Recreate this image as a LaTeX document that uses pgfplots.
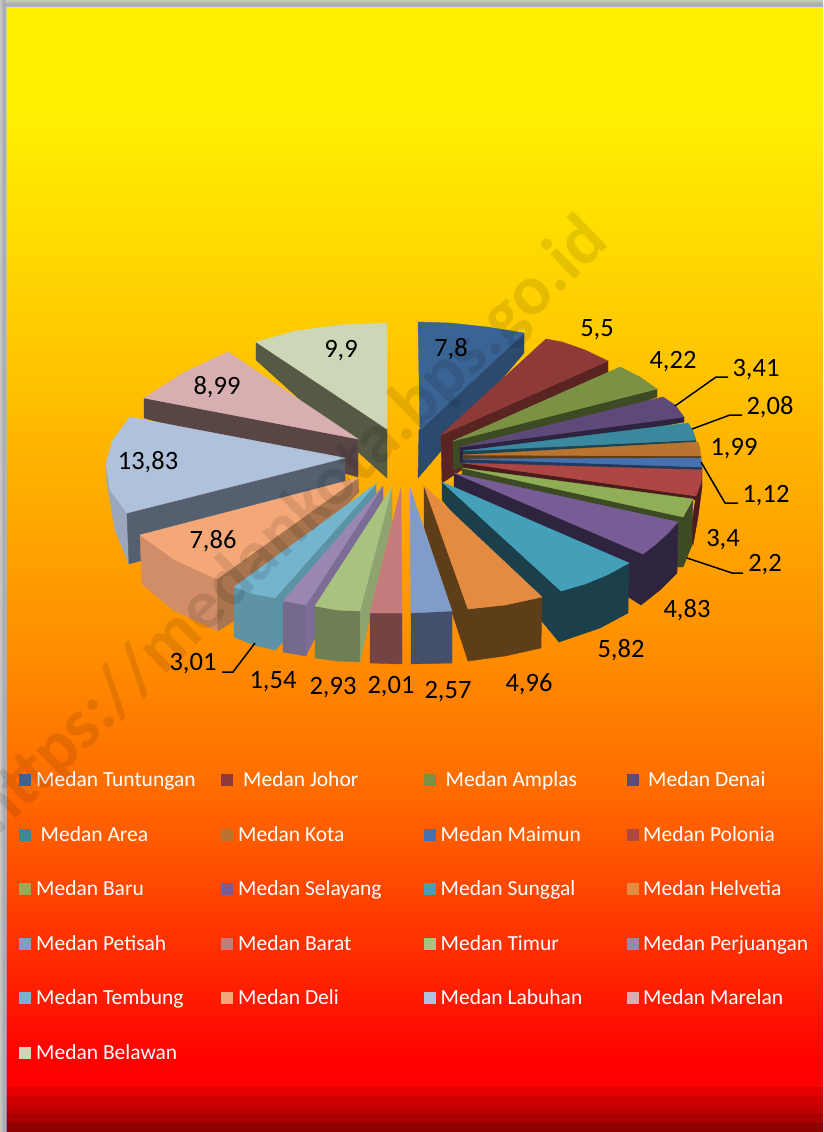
\documentclass[border=0pt]{standalone}
\usepackage{fontspec}
\setmainfont{Carlito}
\usepackage{pgfplots}
\pgfplotsset{compat=1.18}
\pgfdeclareverticalshading{bgfade}{100bp}{
 rgb(0bp)=(1,0,0); rgb(25bp)=(1,0,0); rgb(26.25bp)=(1,0,0);
 rgb(29.03bp)=(1,0.102,0); rgb(36.44bp)=(1,0.353,0); rgb(39.2bp)=(1,0.431,0);
 rgb(45.7bp)=(1,0.565,0); rgb(57.3bp)=(1,0.753,0); rgb(65.6bp)=(1,0.878,0);
 rgb(70.7bp)=(1,0.949,0); rgb(75bp)=(1,0.949,0); rgb(100bp)=(1,0.949,0)}
\pgfdeclarehorizontalshading{edgeL}{100bp}{
 rgb(0bp)=(0.78,0.78,0.78); rgb(25bp)=(0.78,0.78,0.78); rgb(65bp)=(0.66,0.66,0.66); rgb(75bp)=(0.62,0.62,0.62); rgb(100bp)=(0.62,0.62,0.62)}
\pgfdeclareverticalshading{edgeT}{100bp}{
 rgb(0bp)=(0.62,0.62,0.62); rgb(25bp)=(0.62,0.62,0.62); rgb(35bp)=(0.66,0.66,0.66); rgb(75bp)=(0.78,0.78,0.78); rgb(100bp)=(0.78,0.78,0.78)}
\definecolor{aT}{HTML}{3A6494}\definecolor{aS}{HTML}{2C4A6E}
\definecolor{bT}{HTML}{8E3A39}\definecolor{bS}{HTML}{5A2423}
\definecolor{cT}{HTML}{7B9144}\definecolor{cS}{HTML}{3D4B25}
\definecolor{dT}{HTML}{5E4A7A}\definecolor{dS}{HTML}{2E2440}
\definecolor{eT}{HTML}{3A899F}\definecolor{eS}{HTML}{1E4452}
\definecolor{fT}{HTML}{B97430}\definecolor{fS}{HTML}{5E3C17}
\definecolor{gT}{HTML}{4472B0}\definecolor{gS}{HTML}{233A5A}
\definecolor{hT}{HTML}{AE4644}\definecolor{hS}{HTML}{4A1C1C}
\definecolor{iT}{HTML}{8FAE55}\definecolor{iS}{HTML}{3D4B25}
\definecolor{jT}{HTML}{785C96}\definecolor{jS}{HTML}{2E2440}
\definecolor{kT}{HTML}{44A0B9}\definecolor{kS}{HTML}{1B3F4B}
\definecolor{lT}{HTML}{E28B41}\definecolor{lS}{HTML}{5E3D19}
\definecolor{mT}{HTML}{7F9CCB}\definecolor{mS}{HTML}{44506A}
\definecolor{nT}{HTML}{C57B7B}\definecolor{nS}{HTML}{744445}
\definecolor{oT}{HTML}{A9C27F}\definecolor{oS}{HTML}{6E7F55}\definecolor{oC}{HTML}{8FA36E}
\definecolor{pT}{HTML}{9A87B1}\definecolor{pS}{HTML}{756A8C}\definecolor{pC}{HTML}{7C6D97}
\definecolor{qT}{HTML}{74B4CC}\definecolor{qS}{HTML}{5D93A4}\definecolor{qC}{HTML}{5A93A6}
\definecolor{rT}{HTML}{F4A878}\definecolor{rS}{HTML}{D08D68}\definecolor{rC}{HTML}{A8754E}
\definecolor{sT}{HTML}{B0C1DB}\definecolor{sS}{HTML}{9BA7BC}\definecolor{sC}{HTML}{54606F}
\definecolor{tT}{HTML}{D7AFB1}\definecolor{tS}{HTML}{5A4545}
\definecolor{uT}{HTML}{CDD7B7}\definecolor{uS}{HTML}{565A45}
\definecolor{st1}{HTML}{E40000}\definecolor{st2}{HTML}{D00000}\definecolor{st3}{HTML}{BE0000}\definecolor{st4}{HTML}{A80000}\definecolor{st5}{HTML}{8C0000}\definecolor{blueline}{HTML}{A0B8E0}
\pgfplotsset{wg/.style={fill=#1,draw=#1,line width=0.4pt,no markers,forget plot},
 sq/.style={color=#1,only marks,mark=square*,mark size=5.6pt,forget plot}}
\newcommand{\lab}[2]{\node[black,yshift=-1.5pt,font=\fontsize{26.5}{26.5}\selectfont,inner sep=0pt] at (axis cs:#1) {#2};}
\newcommand{\leg}[2]{\node[white,anchor=base west,font=\fontsize{21.5}{21.5}\selectfont,inner sep=0pt] at (axis cs:#1) {#2};}
\begin{document}
\begin{tikzpicture}
\useasboundingbox (0,0) rectangle (823pt,1132pt);
\begin{axis}[at={(0,0)},anchor=south west,scale only axis,width=823pt,height=1132pt,
 xmin=0,xmax=823,ymin=0,ymax=1132,y dir=reverse,axis lines=none,clip=true]
% background
\shade[shading=bgfade] (axis cs:0,7) rectangle (axis cs:823,1087);
\addplot[wg=st1] coordinates {(0,1087)(823,1087)(823,1096)(0,1096)} --cycle;
\addplot[wg=st2] coordinates {(0,1096)(823,1096)(823,1105)(0,1105)} --cycle;
\addplot[wg=st3] coordinates {(0,1105)(823,1105)(823,1114)(0,1114)} --cycle;
\addplot[wg=st4] coordinates {(0,1114)(823,1114)(823,1123)(0,1123)} --cycle;
\addplot[wg=st5] coordinates {(0,1123)(823,1123)(823,1132)(0,1132)} --cycle;
\shade[shading=edgeT] (axis cs:0,0) rectangle (axis cs:823,5.5);
\shade[shading=edgeL] (axis cs:0,0) rectangle (axis cs:5,1132);
\addplot[fill=blueline,draw=none,no markers,forget plot] coordinates {(5,5.5)(823,5.5)(823,7)(6.5,7)(6.5,1132)(5,1132)} --cycle;
% Belawan, Tuntungan
\addplot[wg=uS] coordinates {(256,342)(256,360)(387,478)(387,429)} --cycle;
\addplot[wg=uT] coordinates {(387,429)(387,323)(340,325)(295,331)(256,342)} --cycle;
\addplot[wg=aS] coordinates {(524,333)(524,353)(418,478)(419,430)} --cycle;
\addplot[wg=aT] coordinates {(418,322)(450,323)(487,327)(524,333)(420,430)} --cycle;
% left back
\addplot[wg=tS] coordinates {(144,398)(144,418)(358,477)(358,439)} --cycle;
\addplot[wg=tT] coordinates {(358,439)(228,352)(185,372)(144,398)} --cycle;
\addplot[wg=sS] coordinates {(106,463)(107,483)(115,530)(129,564)(127,513)(110,490)} --cycle;
\addplot[wg=sC] coordinates {(345,458)(127,513)(129,564)(345,505)} --cycle;
\addplot[wg=sT] coordinates {(345,458)(130,417)(113,440)(106,463)(110,490)(127,513)} --cycle;
% right fan
\addplot[wg=bS] coordinates {(608,361)(608,372)(442,483)(441,435)} --cycle;
\addplot[wg=bT] coordinates {(441,435)(546,339)(562,342)(585,350)(608,361)} --cycle;
\addplot[wg=cS] coordinates {(657,389)(657,397)(453,470)(453,441)} --cycle;
\addplot[wg=cT] coordinates {(453,441)(620,367)(640,377)(657,389)} --cycle;
\addplot[wg=dS] coordinates {(684,417)(684,422)(460,463)(460,447)} --cycle;
\addplot[wg=dT] coordinates {(460,447)(663,397)(675,405)(684,417)} --cycle;
\addplot[wg=eS] coordinates {(696,440)(696,442)(463,465)(463,451)} --cycle;
\addplot[wg=eT] coordinates {(463,451)(688,423)(693,431)(696,440)} --cycle;
\addplot[wg=fS] coordinates {(701,456)(701,458)(463,467)(463,455)} --cycle;
\addplot[wg=fT] coordinates {(463,455)(698,442)(700,449)(701,456)} --cycle;
\addplot[wg=gS] coordinates {(702,467)(702,470)(463,468)(463,459)} --cycle;
\addplot[wg=gT] coordinates {(463,459)(701,458)(702,467)} --cycle;
\addplot[wg=hS] coordinates {(702,470)(702,487)(698,517)(693,545)(690,535)(696,496)} --cycle;
\addplot[wg=hS] coordinates {(696,496)(696,500)(463,470)(463,463)} --cycle;
\addplot[wg=hT] coordinates {(463,463)(702,470)(701,483)(696,496)} --cycle;
\addplot[wg=iS] coordinates {(693,499)(692,525)(692,545)(683,567)(677,567)(678,523)(683,517)} --cycle;
\addplot[wg=iS] coordinates {(683,517)(678,523)(462,480)(462,468)} --cycle;
\addplot[wg=iT] coordinates {(462,468)(693,499)(683,517)} --cycle;
\addplot[wg=jS] coordinates {(678,522)(677,573)(660,590)(641,605)(643,554)(656,544)(668,533)} --cycle;
\addplot[wg=jS] coordinates {(454,473)(643,554)(641,605)(454,487)} --cycle;
\addplot[wg=jT] coordinates {(454,473)(678,522)(668,533)(656,544)(643,554)} --cycle;
\addplot[wg=kS] coordinates {(629,563)(628,613)(600,628)(559,642)(561,591)(585,584)(607,575)} --cycle;
\addplot[wg=kS] coordinates {(442,482)(561,591)(559,642)(442,500)} --cycle;
\addplot[wg=kT] coordinates {(442,482)(629,563)(607,575)(585,584)(561,591)} --cycle;
\addplot[wg=lS] coordinates {(424,486)(468,609)(468,661)(424,527)} --cycle;
\addplot[wg=lS] coordinates {(542,597)(541,648)(505,656)(468,661)(468,609)(505,605)} --cycle;
\addplot[wg=lT] coordinates {(424,486)(542,597)(505,605)(468,609)} --cycle;
% left front
\addplot[wg=rS] coordinates {(140,535)(142,584)(173,610)(218,631)(217,579)(175,560)} --cycle;
\addplot[wg=rC] coordinates {(358,478)(359,492)(235,620)(218,631)(217,579)} --cycle;
\addplot[wg=rT] coordinates {(358,478)(217,579)(175,560)(140,535)} --cycle;
\addplot[wg=qS] coordinates {(275,598)(275,650)(254,645)(234,637)(234,587)(254,594)} --cycle;
\addplot[wg=qC] coordinates {(376,484)(376,495)(283,642)(275,650)(275,598)} --cycle;
\addplot[wg=qT] coordinates {(376,484)(275,598)(254,594)(234,587)} --cycle;
\addplot[wg=pS] coordinates {(306,605)(306,656)(283,652)(283,601)} --cycle;
\addplot[wg=pC] coordinates {(383,486)(383,499)(306,656)(306,605)} --cycle;
\addplot[wg=pT] coordinates {(383,486)(306,605)(283,601)} --cycle;
\addplot[wg=oS] coordinates {(360,611)(360,662)(337,661)(315,658)(315,606)(337,610)} --cycle;
\addplot[wg=oC] coordinates {(392,487)(392,520)(360,662)(360,611)} --cycle;
\addplot[wg=oT] coordinates {(392,487)(360,611)(337,610)(315,606)} --cycle;
\addplot[wg=nS] coordinates {(402,613)(402,664)(370,663)(370,613)} --cycle;
\addplot[wg=nT] coordinates {(401,488)(402,613)(370,613)} --cycle;
\addplot[wg=mS] coordinates {(452,611)(452,663)(411,664)(411,613)} --cycle;
\addplot[wg=mT] coordinates {(410,488)(452,611)(411,613)} --cycle;
% leader lines
\addplot[black,line width=1.5pt,no markers,forget plot] coordinates {(675,406)(716,377)(728,377)};
\addplot[black,line width=1.5pt,no markers,forget plot] coordinates {(692,429)(730,415)(742,415)};
\addplot[black,line width=1.5pt,no markers,forget plot] coordinates {(701,462)(725,503)(738,503)};
\addplot[black,line width=1.5pt,no markers,forget plot] coordinates {(687,558)(732,573)(743,573)};
\addplot[black,line width=1.5pt,no markers,forget plot] coordinates {(255,643)(233,672)(222,672)};
% data labels
\lab{451,348}{7,8}\lab{597,328}{5,5}\lab{673,360}{4,22}\lab{756,368}{3,41}
\lab{770,406}{2,08}\lab{734,447}{1,99}\lab{766,494}{1,12}\lab{723,538}{3,4}
\lab{765,563}{2,2}\lab{687,609}{4,83}\lab{621,649}{5,82}\lab{529,683}{4,96}
\lab{448,690}{2,57}\lab{391,685}{2,01}\lab{333,686}{2,93}\lab{273,680}{1,54}
\lab{193,662}{3,01}\lab{213,540}{7,86}\lab{148,461}{13,83}\lab{217,386}{8,99}\lab{341,349}{9,9}
% legend
\addplot[sq=aT] coordinates {(25,780)};
\addplot[sq=bT] coordinates {(227,780)};
\addplot[sq=cT] coordinates {(430,780)};
\addplot[sq=dT] coordinates {(633,780)};
\addplot[sq=eT] coordinates {(25,835)};
\addplot[sq=fT] coordinates {(227,835)};
\addplot[sq=gT] coordinates {(430,835)};
\addplot[sq=hT] coordinates {(633,835)};
\addplot[sq=iT] coordinates {(25,889)};
\addplot[sq=jT] coordinates {(227,889)};
\addplot[sq=kT] coordinates {(430,889)};
\addplot[sq=lT] coordinates {(633,889)};
\addplot[sq=mT] coordinates {(25,944)};
\addplot[sq=nT] coordinates {(227,944)};
\addplot[sq=oT] coordinates {(430,944)};
\addplot[sq=pT] coordinates {(633,944)};
\addplot[sq=qT] coordinates {(25,998)};
\addplot[sq=rT] coordinates {(227,998)};
\addplot[sq=sT] coordinates {(430,998)};
\addplot[sq=tT] coordinates {(633,998)};
\addplot[sq=uT] coordinates {(25,1053)};
\leg{36,786.5}{Medan Tuntungan}\leg{243,786.5}{Medan Johor}\leg{445.5,786.5}{Medan Amplas}\leg{648,786.5}{Medan Denai}
\leg{40.5,841.5}{Medan Area}\leg{238,841.5}{Medan Kota}\leg{440.5,841.5}{Medan Maimun}\leg{643,841.5}{Medan Polonia}
\leg{36,895.8}{Medan Baru}\leg{238,895.8}{Medan Selayang}\leg{440.5,895.8}{Medan Sunggal}\leg{643,895.8}{Medan Helvetia}
\leg{36,950.5}{Medan Petisah}\leg{238,950.5}{Medan Barat}\leg{440.5,950.5}{Medan Timur}\leg{643,950.5}{Medan Perjuangan}
\leg{36,1004.8}{Medan Tembung}\leg{238,1004.8}{Medan Deli}\leg{440.5,1004.8}{Medan Labuhan}\leg{643,1004.8}{Medan Marelan}
\leg{36,1059.8}{Medan Belawan}
% watermark
\node[black,opacity=0.1,rotate=44,font=\fontsize{71}{71}\selectfont\bfseries,inner sep=0pt] at (axis cs:291,527) {https://medankota.bps.go.id};
\end{axis}
\end{tikzpicture}
\end{document}
